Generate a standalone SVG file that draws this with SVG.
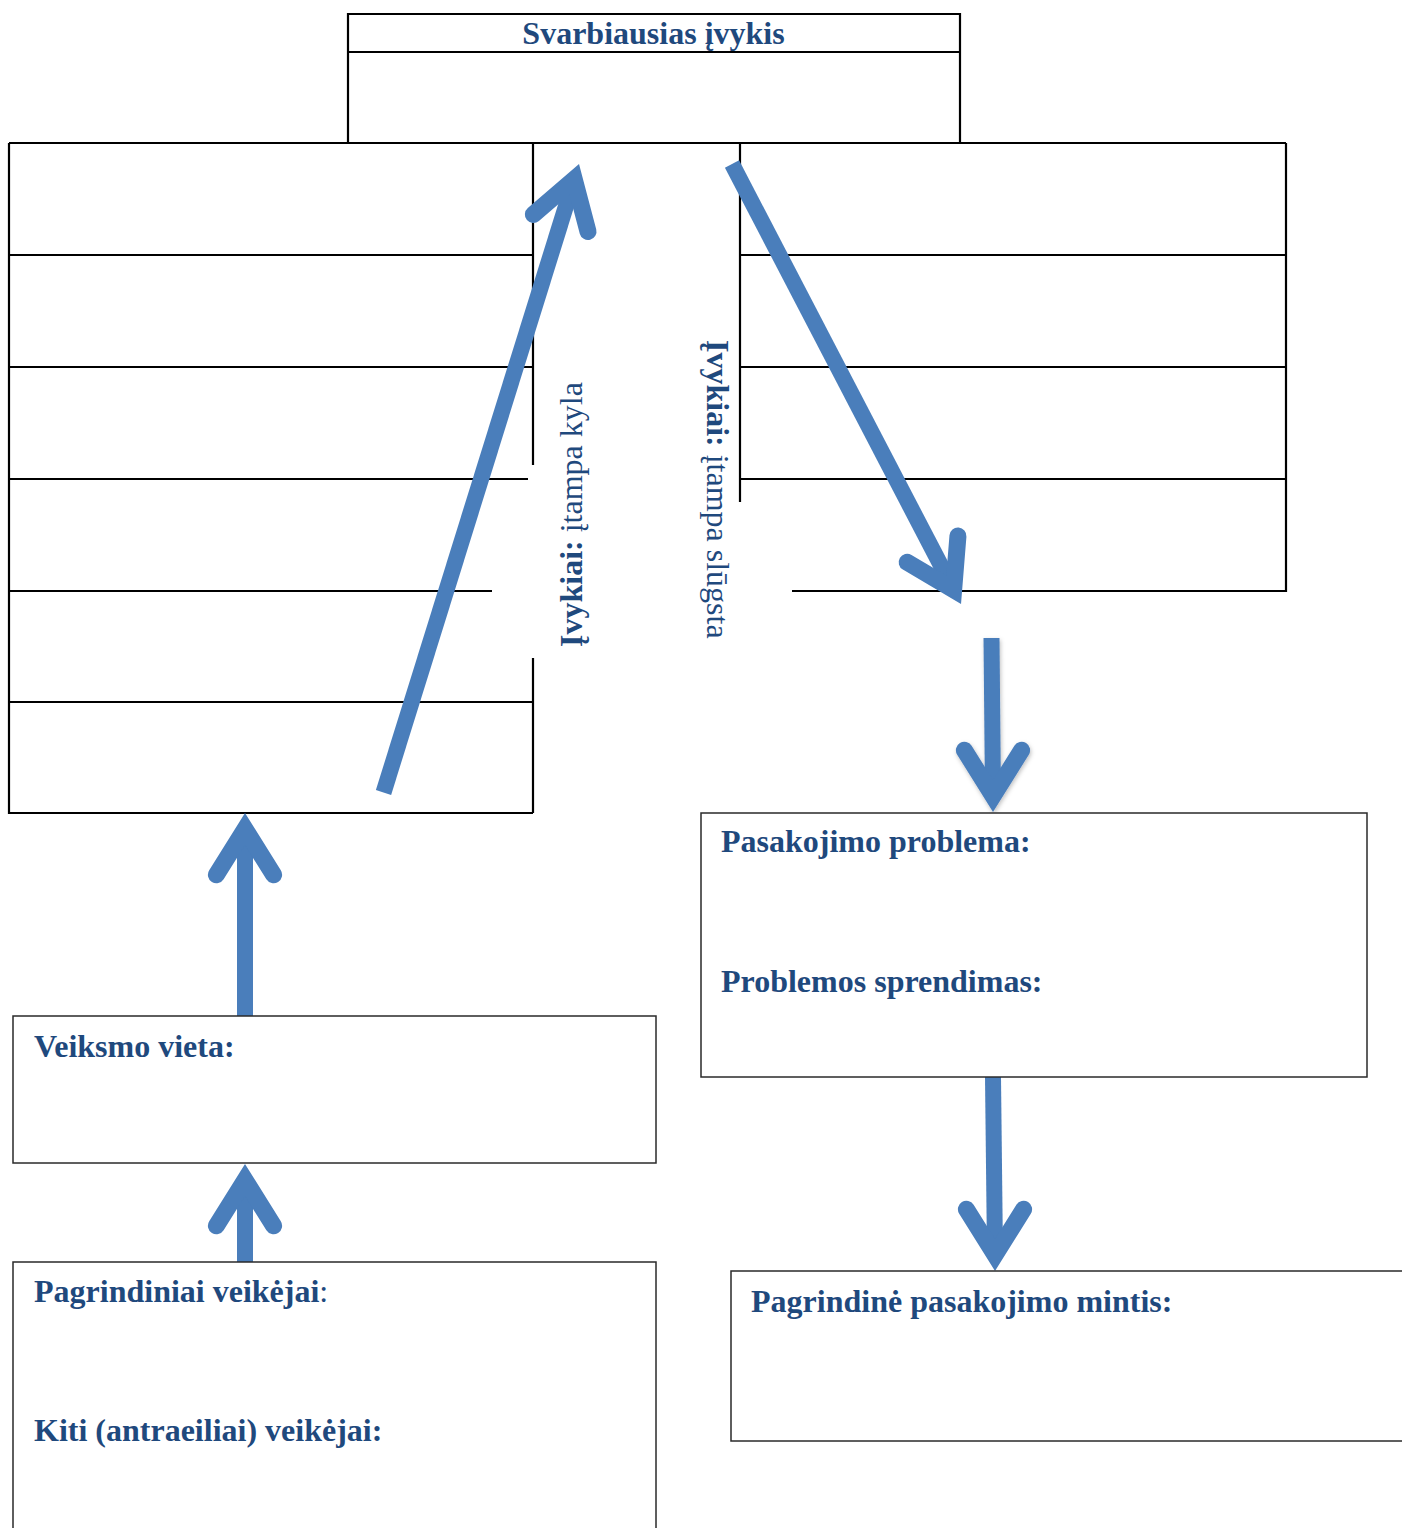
<svg xmlns="http://www.w3.org/2000/svg" width="1402" height="1528" viewBox="0 0 1402 1528">
  <style>
    .thick { fill: none; stroke: #000; stroke-width: 2.2; }
    .thin { fill: #fff; stroke: #2a2a2a; stroke-width: 1.5; }
    .lbl { font-family: "Liberation Serif", "Times New Roman", serif; font-size: 32px; font-weight: bold; fill: #1F497D; }
    .reg { font-weight: normal; }
    .shaft { fill: none; stroke: #4A7EBB; stroke-width: 16; stroke-linecap: butt; }
    .head { fill: none; stroke: #4A7EBB; stroke-width: 17; stroke-linecap: round; stroke-linejoin: miter; stroke-miterlimit: 6; }
  </style>
  <defs>
    <!-- arrowhead pointing up, tip at origin -->
    <polyline id="ah" class="head" points="-28.6,61.8 0,16 28.6,61.8"/>
    <filter id="sh" x="-30%" y="-10%" width="160%" height="130%">
      <feDropShadow dx="1" dy="2" stdDeviation="2" flood-color="#000" flood-opacity="0.25"/>
    </filter>
  </defs>
  <rect width="1402" height="1528" fill="#fff"/>

  <!-- Top box: Svarbiausias ivykis -->
  <g id="top-event">
    <path class="thick" d="M348,143 V14 H960 V143 M348,52 H960"/>
    <text class="lbl" x="653.5" y="44" text-anchor="middle">Svarbiausias įvykis</text>
  </g>

  <!-- Left table (rising action) -->
  <g id="rising-table">
    <path class="thick" d="M9,143 H1286 M9,143 V813 H533 M533,143 V465 M533,658 V813 M9,255 H533 M9,367 H533 M9,479 H528 M9,591 H492 M9,702 H533"/>
  </g>

  <!-- Right table (falling action) -->
  <g id="falling-table">
    <path class="thick" d="M740,143 V502 M1286,143 V591 H792 M741,255 H1286 M741,367 H1286 M741,479 H1286"/>
  </g>

  <!-- Vertical labels -->
  <g id="label-rising">
    <text class="lbl" transform="translate(582,647) rotate(-90)">Įvykiai:<tspan class="reg"> įtampa kyla</tspan></text>
  </g>
  <g id="label-falling">
    <text class="lbl" transform="translate(707,340) rotate(90)">Įvykiai:<tspan class="reg"> įtampa slūgsta</tspan></text>
  </g>

  <!-- Connectors -->
  <g id="connectors">
    <!-- rising diagonal -->
    <line class="shaft" x1="383.5" y1="792.5" x2="574.3" y2="179.3"/>
    <use href="#ah" transform="translate(579,164) rotate(17.25)"/>
    <!-- falling diagonal -->
    <line class="shaft" x1="732" y1="164" x2="953.6" y2="589.8"/>
    <use href="#ah" transform="translate(961,604) rotate(152.6)"/>
    <!-- down to problem -->
    <g filter="url(#sh)">
      <line class="shaft" x1="991.5" y1="638" x2="993" y2="796"/>
      <use href="#ah" transform="translate(993,812) rotate(180)"/>
    </g>
    <!-- setting up to rising table -->
    <line class="shaft" x1="245" y1="1016" x2="245" y2="829"/>
    <use href="#ah" transform="translate(245,813)"/>
    <!-- characters up to setting -->
    <line class="shaft" x1="245" y1="1262" x2="245" y2="1180"/>
    <use href="#ah" transform="translate(245,1164)"/>
    <!-- problem down to main idea -->
    <line class="shaft" x1="993" y1="1077" x2="995" y2="1255"/>
    <use href="#ah" transform="translate(995,1271) rotate(180)"/>
  </g>

  <!-- Setting box -->
  <g id="setting">
    <rect class="thin" x="13" y="1016" width="643" height="147"/>
    <text class="lbl" x="34" y="1057">Veiksmo vieta:</text>
  </g>

  <!-- Characters box -->
  <g id="characters">
    <rect class="thin" x="13" y="1262" width="643" height="290"/>
    <text class="lbl" x="34" y="1302">Pagrindiniai veikėjai<tspan class="reg">:</tspan></text>
    <text class="lbl" x="34" y="1441">Kiti (antraeiliai) veikėjai:</text>
  </g>

  <!-- Problem box -->
  <g id="problem">
    <rect class="thin" x="701" y="813" width="666" height="264"/>
    <text class="lbl" x="721" y="852">Pasakojimo problema:</text>
    <text class="lbl" x="721" y="992">Problemos sprendimas:</text>
  </g>

  <!-- Main idea box -->
  <g id="main-idea">
    <rect class="thin" x="731" y="1271" width="700" height="170"/>
    <text class="lbl" x="751" y="1312">Pagrindinė pasakojimo mintis:</text>
  </g>
</svg>
